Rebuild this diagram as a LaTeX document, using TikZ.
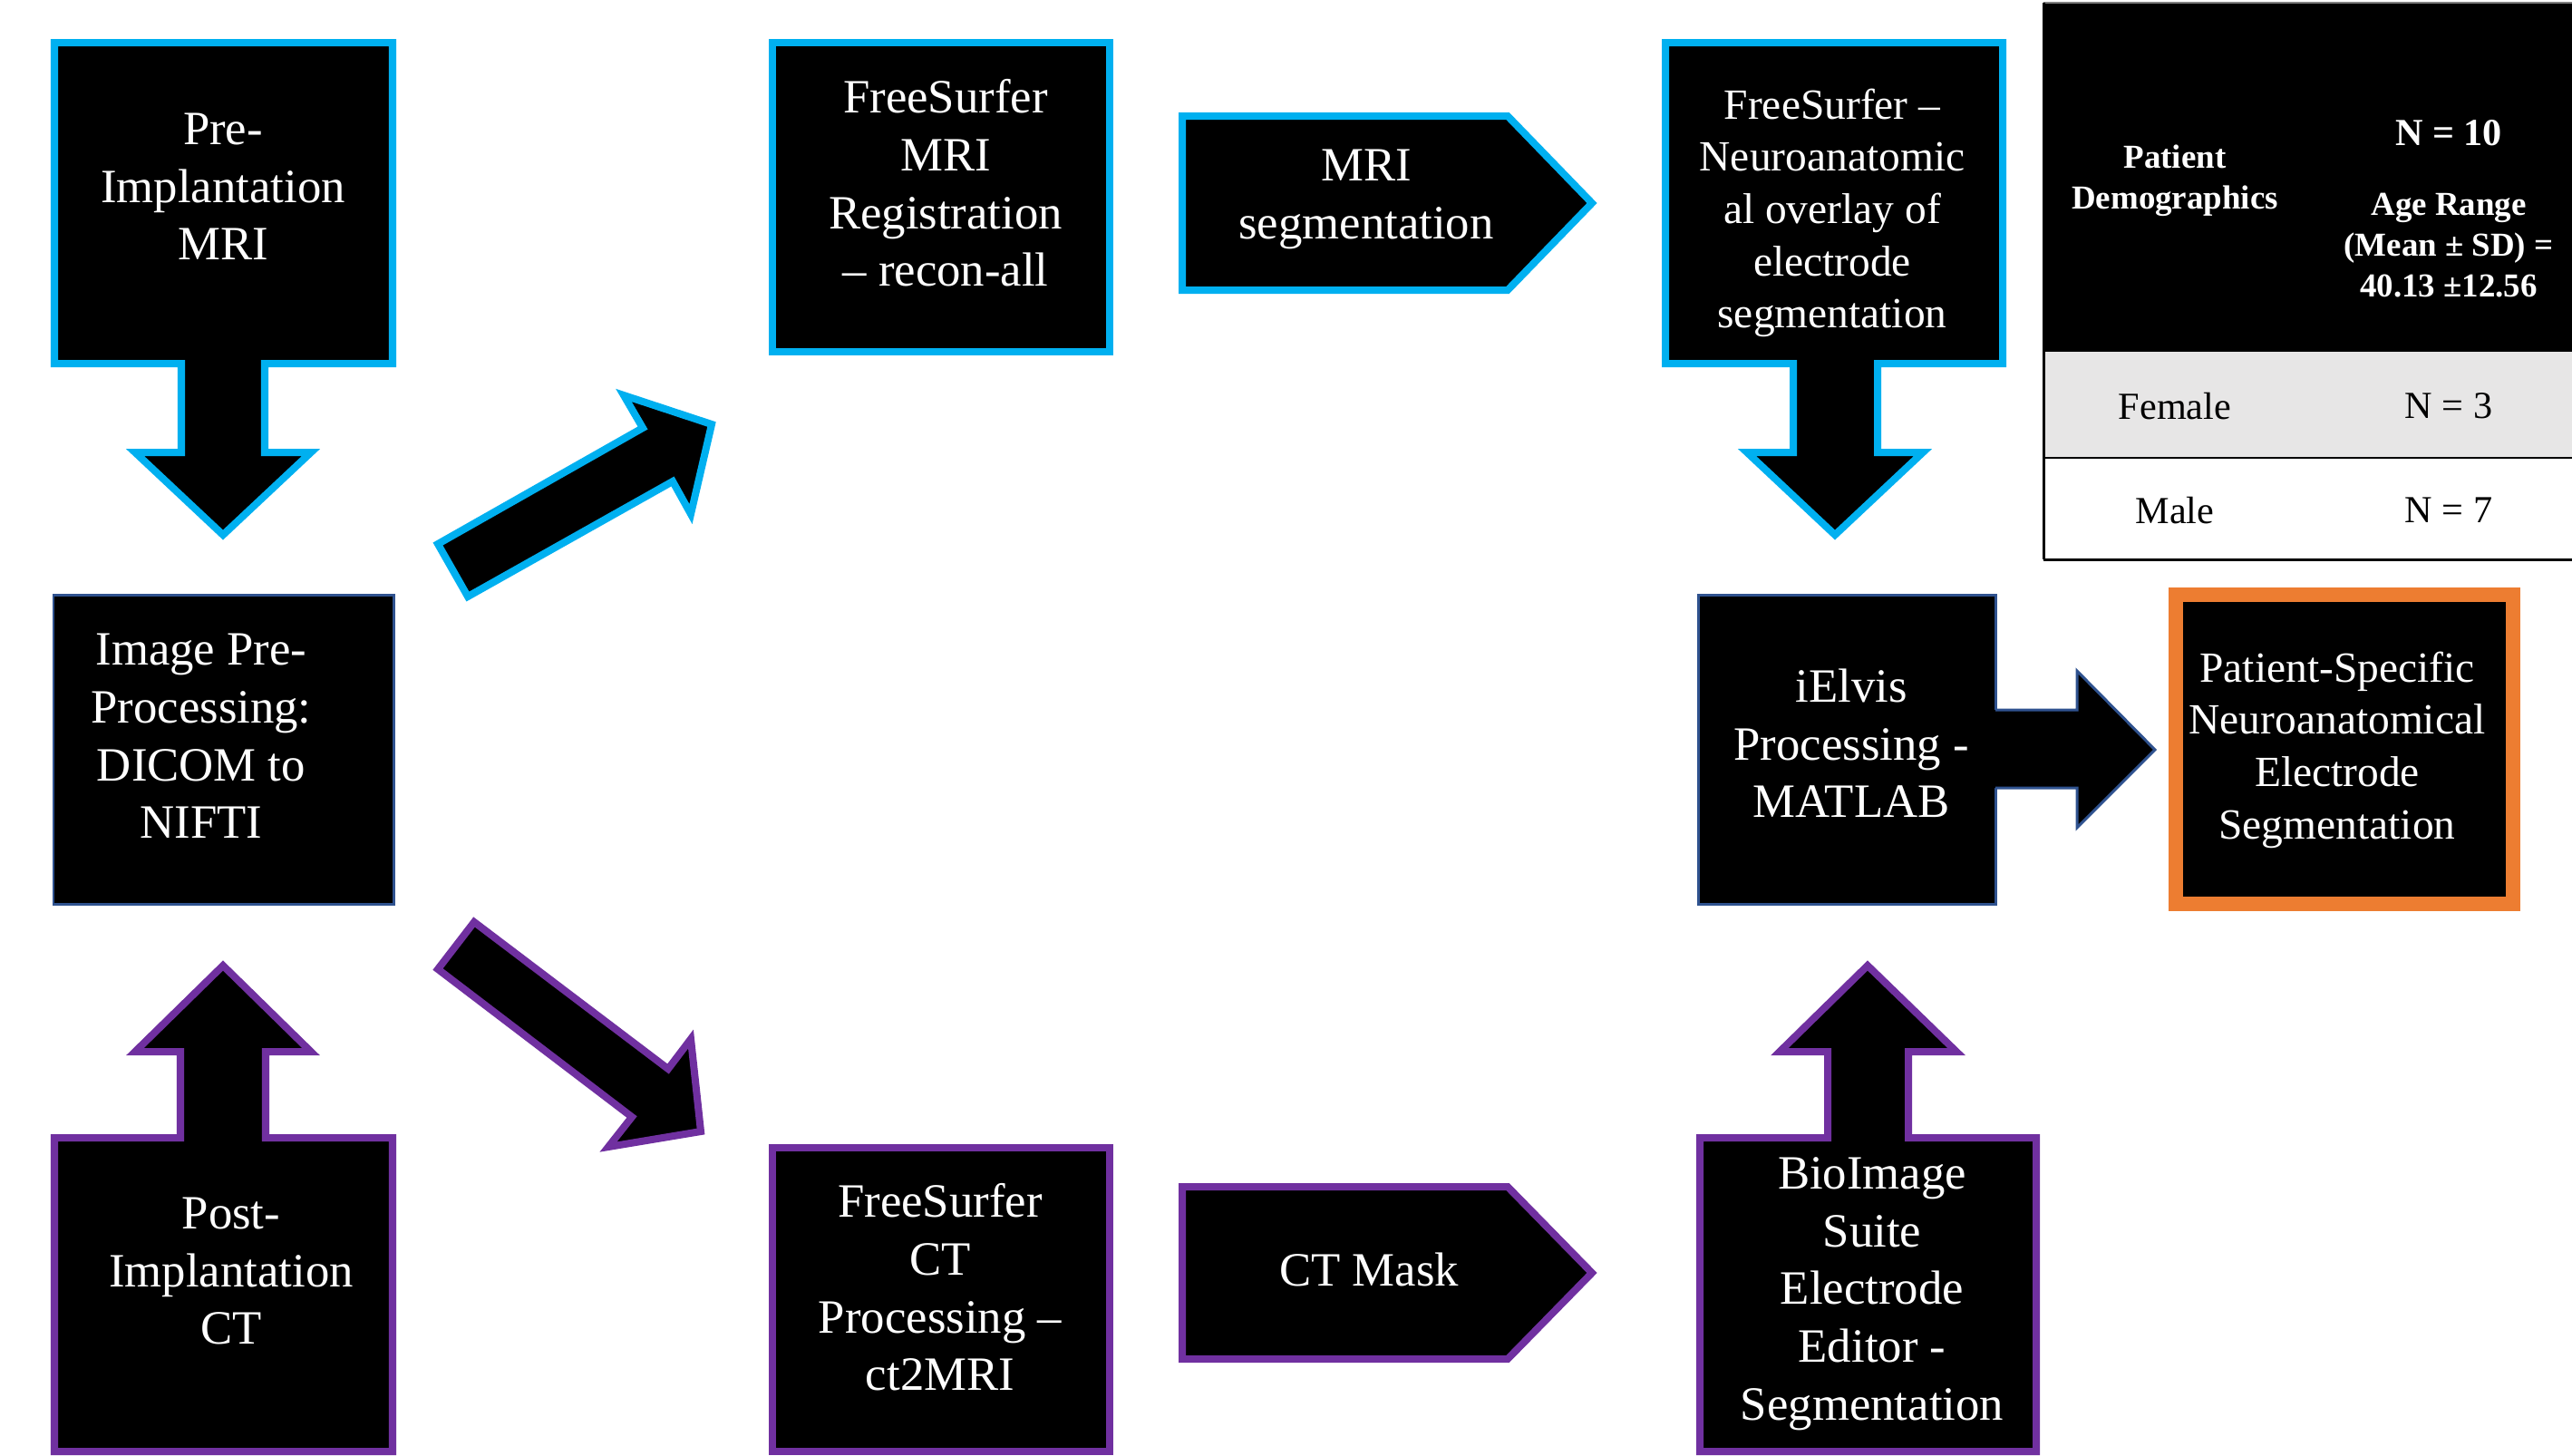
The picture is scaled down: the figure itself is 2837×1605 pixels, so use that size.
\documentclass[tikz,border=0pt]{standalone}
\usepackage{fontspec}
\setmainfont{Liberation Serif}
\definecolor{cblue}{HTML}{00B0F0}
\definecolor{cpurple}{HTML}{7030A0}
\definecolor{corange}{HTML}{ED7D31}
\definecolor{cdark}{HTML}{2F528F}
\definecolor{cgrey}{HTML}{E7E6E6}
\begin{document}
\begin{tikzpicture}[x=0.01cm,y=-0.01cm, line join=miter,
  lbl/.style={text=white, align=center, inner sep=0pt, font=\fontsize{15}{18.1}\selectfont},
  lblsm/.style={lbl, font=\fontsize{13.5}{16.4}\selectfont},
  bshape/.style={fill=black, draw=cblue, line width=2.28pt},
  pshape/.style={fill=black, draw=cpurple, line width=2.28pt},
  dshape/.style={fill=black, draw=cdark, line width=0.85pt},
  oshape/.style={fill=black, draw=corange, line width=4.55pt},
  thead/.style={inner sep=0pt, align=center, text=white, font=\fontsize{10.5}{12.8}\selectfont\bfseries},
  tcell/.style={inner sep=0pt, text=black, font=\fontsize{12}{14.4}\selectfont}
]
\useasboundingbox (0,0) rectangle (2837,1605);

% ---- top-left: Pre-Implantation MRI (callout down)
\draw[bshape] (60,47) -- (433,47) -- (433,401) -- (292,401) -- (292,499) -- (343,499)
  -- (246,590) -- (149,499) -- (200,499) -- (200,401) -- (60,401) -- cycle;
\node[lbl] (pre) at (246,206) {Pre-\\Implantation\\MRI};

% ---- Image Pre-Processing
\draw[dshape] (59,656) rectangle (434,997);
\node[lbl] (prep) at (222,812) {Image Pre-\\Processing:\\DICOM to\\NIFTI};

% ---- Post-Implantation CT (callout up)
\draw[pshape] (60,1601) -- (60,1255) -- (199,1255) -- (199,1160) -- (149,1160) -- (246,1065)
  -- (343,1160) -- (293,1160) -- (293,1255) -- (433,1255) -- (433,1601) -- cycle;
\node[lbl] (post) at (255,1402) {Post-\\Implantation\\CT};

% ---- diagonal block arrows
\draw[bshape] (483,600) -- (709,472) -- (688,436) -- (785,468) -- (762,567) -- (742,531) -- (516,658) -- cycle;
\draw[pshape] (523,1017) -- (737,1179) -- (762,1146) -- (773,1248) -- (671,1265) -- (697,1232) -- (483,1069) -- cycle;

% ---- FreeSurfer MRI Registration
\draw[bshape] (852,47) rectangle (1224,388);
\node[lbl] (fsmri) at (1043,202) {FreeSurfer\\MRI\\Registration\\– recon-all};

% ---- MRI segmentation (pentagon)
\draw[bshape] (1304,128) -- (1663,128) -- (1756,224) -- (1663,320) -- (1304,320) -- cycle;
\node[lbl] (mriseg) at (1507,220) {MRI\\segmentation};

% ---- FreeSurfer - Neuroanatomical overlay (callout down)
\draw[bshape] (1837,47) -- (2209,47) -- (2209,401) -- (2071,401) -- (2071,499) -- (2121,499)
  -- (2024,590) -- (1927,499) -- (1978,499) -- (1978,401) -- (1837,401) -- cycle;
\node[lblsm] (fsneuro) at (2021,235) {FreeSurfer –\\Neuroanatomic\\al overlay of\\electrode\\segmentation};

% ---- iElvis Processing
\draw[dshape] (1873,656) rectangle (2201,997);
\fill[black] (2195,783) -- (2291,783) -- (2291,740) -- (2377,827) -- (2291,913) -- (2291,869) -- (2195,869) -- cycle;
\draw[cdark, line width=0.85pt] (2201,783) -- (2291,783) -- (2291,740) -- (2377,827) -- (2291,913) -- (2291,869) -- (2201,869);
\node[lbl] (ielvis) at (2042,820) {iElvis\\Processing -\\MATLAB};

% ---- Patient-Specific result
\draw[oshape] (2400,656) rectangle (2772,997);
\node[lblsm] (pss) at (2578,827) {Patient-Specific\\Neuroanatomical\\Electrode\\Segmentation};

% ---- FreeSurfer CT Processing
\draw[pshape] (852,1266) rectangle (1224,1601);
\node[lbl] (fsct) at (1037,1420) {FreeSurfer\\CT\\Processing –\\ct2MRI};

% ---- CT Mask (pentagon)
\draw[pshape] (1304,1309) -- (1663,1309) -- (1756,1404) -- (1663,1499) -- (1304,1499) -- cycle;
\node[lbl] (ctmask) at (1510,1400) {CT Mask};

% ---- BioImage Suite (callout up)
\draw[pshape] (1875,1601) -- (1875,1255) -- (2016,1255) -- (2016,1160) -- (1963,1160) -- (2060,1065)
  -- (2158,1160) -- (2105,1160) -- (2105,1255) -- (2246,1255) -- (2246,1601) -- cycle;
\node[lbl] (bio) at (2065,1427) {BioImage\\Suite\\Electrode\\Editor -\\Segmentation};

% ---- demographics table
\begin{scope}
  \clip (2240,0) rectangle (2837,1605);
  \fill[black] (2254,3) rectangle (2900,388);
  \fill[cgrey] (2254,388) rectangle (2900,505);
  \draw[gray, line width=0.57pt] (2254,3) -- (2900,3);
  \draw[black, line width=0.6pt] (2254,505) -- (2900,505);
  \draw[black, line width=0.85pt] (2254,617) -- (2900,617);
  \draw[black, line width=0.85pt] (2254,3) -- (2254,617);
\end{scope}
\node[thead] (tpd) at (2399,199) {Patient\\Demographics};
\node[thead, font=\fontsize{12}{14.4}\selectfont\bfseries] (tn) at (2701,147) {N = 10};
\node[thead] (tage) at (2701,271) {Age Range\\(Mean ± SD) =\\40.13 ±12.56};
\node[tcell] (tf) at (2399,448) {Female};
\node[tcell] (tf3) at (2701,448) {N = 3};
\node[tcell] (tm) at (2399,563) {Male};
\node[tcell] (tm7) at (2701,563) {N = 7};
\end{tikzpicture}
\end{document}
